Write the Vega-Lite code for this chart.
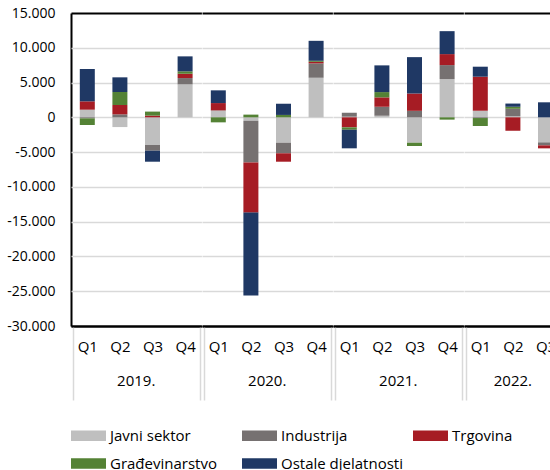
{
  "$schema": "https://vega.github.io/schema/vega-lite/v6.json",
  "padding": {"left": 6, "top": 6, "right": 0, "bottom": 0},
  "data": {"values": [
    {"year": "2019.", "q": "Q1", "Javni sektor": 1100, "Industrija": -150, "Trgovina": 1200, "Građevinarstvo": -950, "Ostale djelatnosti": 4650},
    {"year": "2019.", "q": "Q2", "Javni sektor": -1400, "Industrija": 430, "Trgovina": 1340, "Građevinarstvo": 1870, "Ostale djelatnosti": 2110},
    {"year": "2019.", "q": "Q3", "Javni sektor": -3980, "Industrija": -820, "Trgovina": 250, "Građevinarstvo": 575, "Ostale djelatnosti": -1580},
    {"year": "2019.", "q": "Q4", "Javni sektor": 4740, "Industrija": 905, "Trgovina": 620, "Građevinarstvo": 345, "Ostale djelatnosti": 2155},
    {"year": "2020.", "q": "Q1", "Javni sektor": 950, "Industrija": 50, "Trgovina": 1050, "Građevinarstvo": -720, "Ostale djelatnosti": 1830},
    {"year": "2020.", "q": "Q2", "Javni sektor": -490, "Industrija": -6000, "Trgovina": -7210, "Građevinarstvo": 390, "Ostale djelatnosti": -11930},
    {"year": "2020.", "q": "Q3", "Javni sektor": -3650, "Industrija": -1520, "Trgovina": -1210, "Građevinarstvo": 345, "Ostale djelatnosti": 1610},
    {"year": "2020.", "q": "Q4", "Javni sektor": 5690, "Industrija": 2070, "Trgovina": 220, "Građevinarstvo": 150, "Ostale djelatnosti": 2870},
    {"year": "2021.", "q": "Q1", "Javni sektor": 100, "Industrija": 560, "Trgovina": -1440, "Građevinarstvo": -345, "Ostale djelatnosti": -2670},
    {"year": "2021.", "q": "Q2", "Javni sektor": 230, "Industrija": 1290, "Trgovina": 1350, "Građevinarstvo": 760, "Ostale djelatnosti": 3840},
    {"year": "2021.", "q": "Q3", "Javni sektor": -3650, "Industrija": 935, "Trgovina": 2490, "Građevinarstvo": -475, "Ostale djelatnosti": 5230},
    {"year": "2021.", "q": "Q4", "Javni sektor": 5500, "Industrija": 2010, "Trgovina": 1580, "Građevinarstvo": -330, "Ostale djelatnosti": 3300},
    {"year": "2022.", "q": "Q1", "Javni sektor": 950, "Industrija": -100, "Trgovina": 4890, "Građevinarstvo": -1150, "Ostale djelatnosti": 1440},
    {"year": "2022.", "q": "Q2", "Javni sektor": 150, "Industrija": 1080, "Trgovina": -1930, "Građevinarstvo": 290, "Ostale djelatnosti": 460},
    {"year": "2022.", "q": "Q3", "Javni sektor": -3600, "Industrija": -430, "Trgovina": -430, "Građevinarstvo": 0, "Ostale djelatnosti": 2160}
  ]},
  "transform": [
    {"fold": ["Javni sektor", "Industrija", "Trgovina", "Građevinarstvo", "Ostale djelatnosti"], "as": ["series", "value"]},
    {"calculate": "indexof(['Javni sektor', 'Industrija', 'Trgovina', 'Građevinarstvo', 'Ostale djelatnosti'], datum.series)", "as": "ord"}
  ],
  "facet": {
    "column": {
      "field": "year", "type": "ordinal", "title": null,
      "header": {"labelOrient": "bottom", "labelFontSize": 15, "labelFont": "Open Sans", "labelColor": "#000000", "labelPadding": -27}
    }
  },
  "spacing": 0,
  "resolve": {"scale": {"x": "independent"}},
  "spec": {
    "width": {"step": 32.6},
    "height": 313,
    "mark": {"type": "bar", "width": 15},
    "encoding": {
      "x": {
        "field": "q", "type": "ordinal", "title": null,
        "axis": {
          "labelAngle": 0, "labelFontSize": 15, "labelColor": "#000000", "labelPadding": -61,
          "domainColor": "#000000", "domainWidth": 2,
          "tickBand": "extent", "tickSize": 74, "tickColor": "#d9d9d9", "tickWidth": 1.5,
          "tickOpacity": {"condition": {"test": "datum.value === 'Q4' || !isValid(datum.value)", "value": 1}, "value": 0}
        }
      },
      "y": {
        "field": "value", "type": "quantitative", "stack": "zero", "title": null,
        "scale": {"domain": [-30000, 15000], "nice": false},
        "axis": {
          "values": [-30000, -25000, -20000, -15000, -10000, -5000, 0, 5000, 10000, 15000],
          "labelExpr": "replace(replace(format(datum.value, ','), ',', '.'), '\u2212', '-')",
          "labelFontSize": 14, "labelColor": "#000000", "labelPadding": 16,
          "ticks": false, "domainColor": "#000000", "domainWidth": 2,
          "gridColor": {"condition": {"test": "datum.value === 15000 || datum.value === -30000", "value": "#000000"}, "value": "#d9d9d9"},
          "gridWidth": {"condition": {"test": "datum.value === 15000 || datum.value === -30000", "value": 2}, "value": 1.5}
        }
      },
      "color": {
        "field": "series", "type": "nominal", "title": null,
        "scale": {
          "domain": ["Javni sektor", "Industrija", "Trgovina", "Građevinarstvo", "Ostale djelatnosti"],
          "range": ["#bfbfbf", "#767171", "#a61c24", "#548235", "#1f3864"]
        },
        "legend": {
          "orient": "bottom", "direction": "horizontal", "columns": 3, "gridAlign": "all",
          "symbolType": "M-1,-0.3L1,-0.3L1,0.3L-1,0.3Z", "symbolSize": 1225, "symbolStrokeWidth": 0, "symbolOpacity": 1,
          "labelFontSize": 15, "labelColor": "#000000", "labelOffset": 4, "columnPadding": 10, "rowPadding": 2, "offset": 17
        }
      },
      "order": {"field": "ord", "type": "quantitative"}
    }
  },
  "config": {"view": {"stroke": null}, "font": "Open Sans"}
}
